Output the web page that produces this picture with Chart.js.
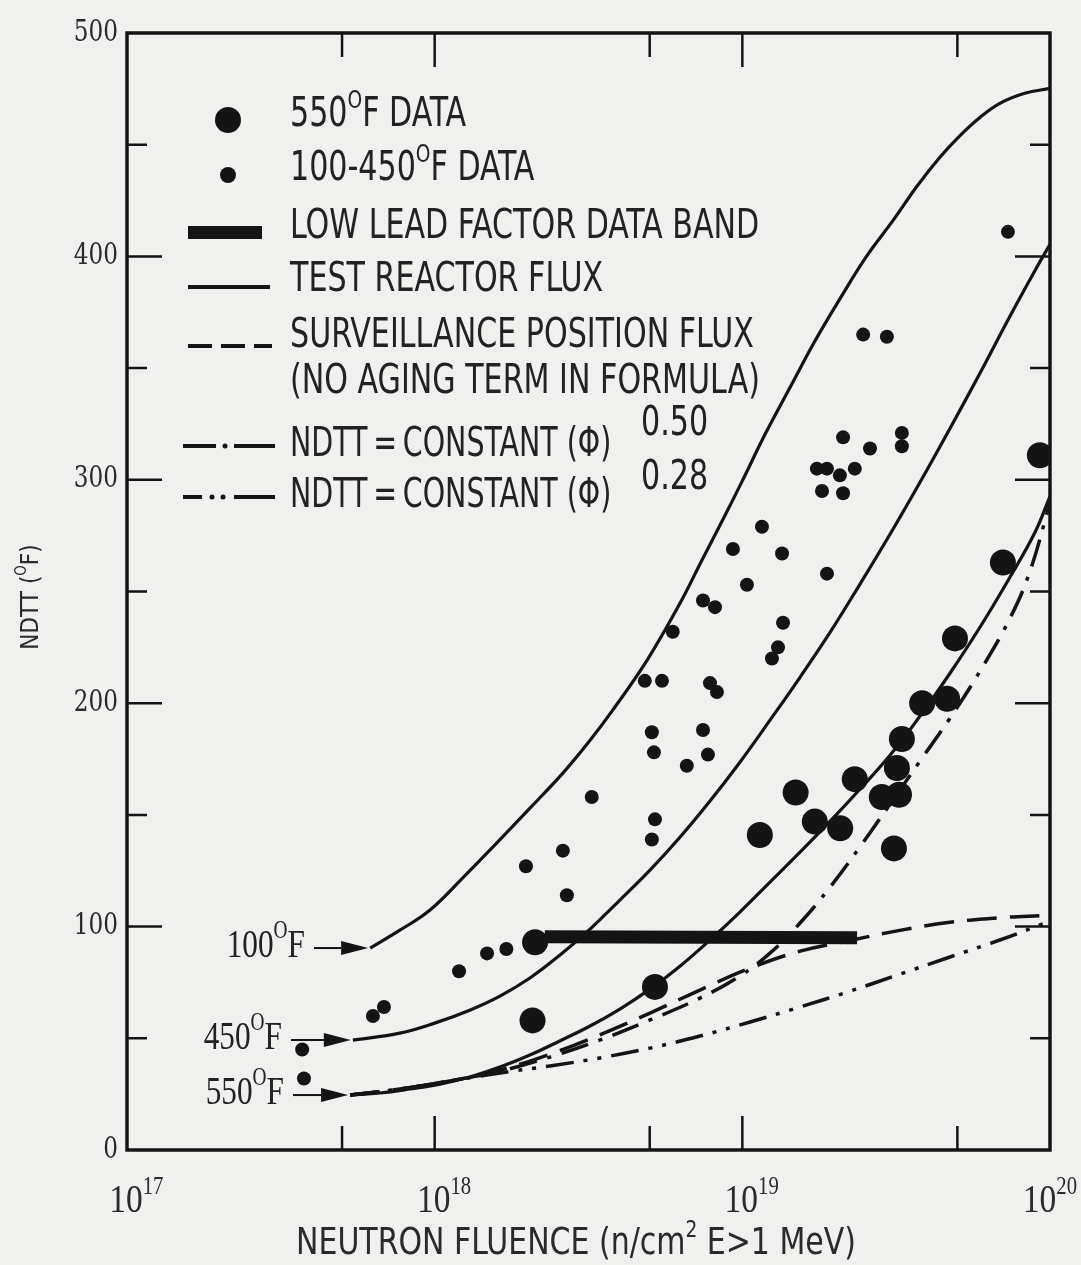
<!DOCTYPE html>
<html><head><meta charset="utf-8">
<script src="https://cdn.jsdelivr.net/npm/chart.js@4/dist/chart.umd.min.js"></script>
<style>html,body{margin:0;padding:0;background:#f0f0ee;}canvas{display:block}</style>
</head><body>
<canvas id="c" width="1081" height="1265"></canvas>
<script>
// ---------------- DATA ----------------
// 550°F data (large dots): fluence (n/cm2), NDTT (°F)
const big550X = [2.12e18, 2.08e18, 5.2e18, 1.14e19, 1.49e19, 1.72e19, 2.08e19, 2.32e19, 2.84e19, 3.23e19, 3.18e19, 3.30e19, 3.11e19, 3.84e19, 4.63e19, 4.91e19, 7.03e19, 9.27e19];
const big550Y = [93, 58, 73, 141, 160, 147, 144, 166, 158, 159, 171, 184, 135, 200, 202, 229, 263, 311];
// 100-450°F data (small dots)
const smallX = [3.71e17, 3.76e17, 6.30e17, 6.84e17, 1.20e18, 1.48e18, 1.71e18, 1.98e18, 2.61e18, 2.69e18, 3.24e18, 4.82e18, 5.48e18, 5.08e18, 5.16e18, 5.20e18, 5.08e18, 5.94e18, 6.60e18, 7.45e18, 7.73e18, 7.85e18, 8.27e18, 7.45e18, 8.15e18, 9.32e18, 1.035e19, 1.158e19, 1.346e19, 1.356e19, 1.306e19, 1.248e19, 1.884e19, 1.747e19, 1.884e19, 2.075e19, 2.32e19, 1.815e19, 2.125e19, 2.125e19, 2.60e19, 3.30e19, 3.30e19, 2.47e19, 2.95e19, 7.30e19];
const smallY = [45, 32, 60, 64, 80, 88, 90, 127, 134, 114, 158, 210, 210, 187, 178, 148, 139, 232, 172, 188, 177, 209, 205, 246, 243, 269, 253, 279, 267, 236, 225, 220, 258, 305, 305, 302, 305, 295, 294, 319, 314, 321, 315, 365, 364, 411];
// Low lead factor data band
const bandX = [2.28e18, 2.36e19];
const bandY = [95.5, 95];
// Test reactor flux curves (solid)
const c100X = [6.17e17, 7.71e17, 9.66e17, 1.25e18, 1.59e18, 2.04e18, 2.61e18, 3.20e18, 3.79e18, 4.90e18, 6.27e18, 7.39e18, 8.59e18, 9.98e18, 1.19e19, 1.43e19, 1.72e19, 2.08e19, 2.52e19, 3.09e19, 3.69e19, 4.38e19, 5.10e19, 5.92e19, 6.87e19, 8.28e19, 1e20];
const c100Y = [90.4, 98.4, 107.4, 122.6, 137.4, 153.0, 168.7, 183.4, 196.9, 219.2, 244.7, 264.0, 281.4, 299.3, 320.8, 341.4, 362.0, 381.2, 399.6, 416.1, 431.3, 444.3, 454.1, 462.2, 468.5, 473.0, 475.2];
const c450X = [5.42e17, 7.71e17, 1.00e18, 1.30e18, 1.63e18, 2.04e18, 2.55e18, 3.20e18, 4.00e18, 5.01e18, 6.27e18, 7.85e18, 9.82e18, 1.23e19, 1.54e19, 1.93e19, 2.41e19, 3.02e19, 3.78e19, 4.73e19, 5.92e19, 7.41e19, 8.94e19, 1e20];
const c450Y = [49.2, 52.3, 56.8, 62.6, 68.9, 77.0, 87.2, 98.9, 111.9, 125.3, 140.0, 156.2, 173.6, 192.4, 211.6, 231.8, 253.2, 275.6, 298.9, 323.0, 347.7, 373.2, 393.7, 405.4];
const c550X = [5.31e17, 6.64e17, 8.31e17, 1.04e18, 1.30e18, 1.63e18, 2.04e18, 2.55e18, 3.20e18, 4.00e18, 5.01e18, 6.27e18, 7.85e18, 9.82e18, 1.23e19, 1.54e19, 1.93e19, 2.41e19, 3.02e19, 3.78e19, 4.73e19, 5.92e19, 7.41e19, 8.94e19, 1e20];
const c550Y = [24.6, 25.5, 27.3, 29.5, 32.7, 37.1, 42.5, 48.8, 55.5, 63.1, 72.0, 82.3, 94.0, 106.5, 119.9, 133.3, 147.2, 161.5, 176.7, 194.2, 213.4, 234.0, 256.4, 276.5, 292.6];
// Surveillance position flux (dashed)
const survX = [5.31e17, 7.71e17, 1.12e18, 1.63e18, 2.37e18, 3.44e18, 5.01e18, 7.28e18, 1.06e19, 1.54e19, 2.24e19, 3.25e19, 4.73e19, 6.87e19, 9.64e19];
const survY = [24.6, 27.3, 30.9, 35.8, 42.9, 51.5, 61.3, 71.6, 81.4, 89.0, 93.8, 98.3, 101.9, 104.0, 105.0];
// NDTT = constant (phi)^0.50 (dash-dot)
const p50X = [5.31e17, 7.71e17, 1.12e18, 1.63e18, 2.37e18, 3.44e18, 5.01e18, 7.28e18, 9.82e18, 1.23e19, 1.54e19, 1.93e19, 2.41e19, 3.02e19, 3.78e19, 4.73e19, 5.92e19, 7.41e19, 8.61e19, 1e20];
const p50Y = [24.6, 27.3, 30.9, 35.3, 41.6, 49.2, 58.2, 68.0, 77.9, 88.1, 101.6, 117.7, 135.6, 154.8, 174.1, 193.3, 214.3, 238.0, 259.1, 289.9];
// NDTT = constant (phi)^0.28 (dash-dot-dot)
const p28X = [5.31e17, 7.71e17, 1.12e18, 1.63e18, 2.37e18, 3.44e18, 5.01e18, 7.28e18, 1.06e19, 1.54e19, 2.24e19, 3.25e19, 4.73e19, 6.87e19, 9.64e19];
const p28Y = [24.6, 27.3, 30.9, 34.5, 37.6, 41.2, 45.6, 51.0, 57.3, 64.0, 71.1, 78.7, 86.4, 94.0, 101.6];
// Axis ticks / labels
const yTickValues = [0, 50, 100, 150, 200, 250, 300, 350, 400, 450, 500];
const yTickLabels = ['0', '', '100', '', '200', '', '300', '', '400', '', '500'];
const xTickValues = [5e17, 1e18, 5e18, 1e19, 5e19];
const xLabelExponents = ['17', '18', '19', '20'];
const xLabelValues = [1e17, 1e18, 1e19, 1e20];

// ---------------- STYLE ----------------
const INK = '#141414';
const SANS = '"Liberation Sans Narrow","DejaVu Sans Condensed","Arial Narrow",sans-serif';
const SERIF = '"Liberation Serif","DejaVu Serif",serif';
const NUMF = '"DejaVu Serif",serif';

function pts(xs, ys) { return xs.map((x, i) => ({ x: x, y: ys[i] })); }

function measureRuns(ctx, parts, size, family, sx) {
  const supSize = size * 0.62;
  let total = 0;
  parts.forEach(p => { ctx.font = (p[1] ? supSize : size) + 'px ' + family; total += ctx.measureText(p[0]).width * (sx || 1); });
  return total;
}

function runs(ctx, x, y, parts, size, family, align, sy, sx) {
  sy = sy || 1; sx = sx || 1;
  const supSize = size * 0.62;
  let total = 0;
  const ws = parts.map(p => {
    ctx.font = (p[1] ? supSize : size) + 'px ' + family;
    const w = ctx.measureText(p[0]).width * sx; total += w; return w;
  });
  let cx = align === 'right' ? x - total : (align === 'center' ? x - total / 2 : x);
  ctx.save();
  ctx.textBaseline = 'middle';
  ctx.textAlign = 'left';
  parts.forEach((p, i) => {
    ctx.save();
    ctx.translate(cx, y);
    ctx.scale(sx, sy);
    ctx.font = (p[1] ? supSize : size) + 'px ' + family;
    ctx.fillText(p[0], 0, p[1] ? -size * 0.36 : 0);
    ctx.restore();
    cx += ws[i];
  });
  ctx.restore();
  return total;
}

const overlay = {
  id: 'overlay',
  afterDraw(chart) {
    const ctx = chart.ctx;
    const a = chart.chartArea;
    const xs = chart.scales.x, ys = chart.scales.y;
    ctx.save();
    ctx.strokeStyle = INK; ctx.fillStyle = INK;
    // frame
    ctx.lineWidth = 3.5;
    ctx.setLineDash([]);
    ctx.strokeRect(a.left, a.top, a.right - a.left, a.bottom - a.top);
    // y ticks (inside, both sides)
    ctx.lineWidth = 2.5;
    yTickValues.forEach(v => {
      if (v === 0 || v === 500) return;
      const py = ys.getPixelForValue(v);
      const len = v % 100 === 0 ? 35 : 20;
      ctx.beginPath();
      ctx.moveTo(a.left, py); ctx.lineTo(a.left + len, py);
      ctx.moveTo(a.right, py); ctx.lineTo(a.right - len, py);
      ctx.stroke();
    });
    // x ticks (inside, top and bottom)
    xTickValues.forEach(v => {
      const px = xs.getPixelForValue(v);
      const major = Math.abs(Math.log10(v) - Math.round(Math.log10(v))) < 1e-6;
      const len = major ? 34 : 24;
      ctx.beginPath();
      ctx.moveTo(px, a.bottom); ctx.lineTo(px, a.bottom - len);
      ctx.moveTo(px, a.top); ctx.lineTo(px, a.top + len);
      ctx.stroke();
    });
    // y tick labels
    ctx.fillStyle = '#2a2a2a';
    yTickValues.forEach((v, i) => {
      if (!yTickLabels[i]) return;
      runs(ctx, a.left - 9, ys.getPixelForValue(v), [[yTickLabels[i], false]], 29, NUMF, 'right', 1, 0.8);
    });
    // x tick labels 10^n
    xLabelValues.forEach((v, i) => {
      const px = xs.getPixelForValue(v);
      const parts = [['10', false], [xLabelExponents[i], true]];
      ctx.font = '38px ' + SERIF;
      const w10 = ctx.measureText('10').width * 0.88;
      let left = px - w10 / 2 - 1;
      const tw = measureRuns(ctx, parts, 38, SERIF, 0.88);
      if (left + tw > chart.width - 4) left = chart.width - 4 - tw;
      runs(ctx, left, a.bottom + 52, parts, 38, SERIF, 'left', 1.05, 0.88);
    });
    // axis titles
    runs(ctx, 576, 1244, [['NEUTRON FLUENCE (n/cm', false], ['2', true], [' E>1 MeV)', false]], 34, SANS, 'center', 1.1, 0.98);
    ctx.save();
    ctx.translate(31, 597);
    ctx.rotate(-Math.PI / 2);
    runs(ctx, 0, 0, [['NDTT (', false], ['O', true], ['F)', false]], 24, SANS, 'center', 1.05);
    ctx.restore();

    // start labels with arrows
    const starts = [
      { lab: '100', right: 305, x: c100X[0], y: c100Y[0] },
      { lab: '450', right: 282, x: c450X[0], y: c450Y[0] },
      { lab: '550', right: 284, x: c550X[0], y: c550Y[0] }
    ];
    starts.forEach(s => {
      const px = xs.getPixelForValue(s.x), py = ys.getPixelForValue(s.y);
      ctx.fillStyle = '#222';
      runs(ctx, s.right, py - 2, [[s.lab, false], ['O', true], ['F', false]], 34, SERIF, 'right', 1.18, 0.92);
      ctx.fillStyle = INK;
      const tip = px - 2, base = tip - 27;
      ctx.lineWidth = 2;
      ctx.beginPath(); ctx.moveTo(s.right + 9, py); ctx.lineTo(base, py); ctx.stroke();
      ctx.beginPath(); ctx.moveTo(base, py - 7); ctx.lineTo(tip, py); ctx.lineTo(base, py + 7); ctx.closePath(); ctx.fill();
    });

    // legend
    ctx.fillStyle = INK;
    ctx.beginPath(); ctx.arc(228, 120, 13, 0, Math.PI * 2); ctx.fill();
    ctx.beginPath(); ctx.arc(228, 175, 8, 0, Math.PI * 2); ctx.fill();
    ctx.fillRect(188, 226, 74, 13);
    ctx.lineWidth = 4;
    ctx.beginPath(); ctx.moveTo(188, 287); ctx.lineTo(270, 287); ctx.stroke();
    ctx.setLineDash([24, 9]);
    ctx.beginPath(); ctx.moveTo(188, 346); ctx.lineTo(272, 346); ctx.stroke();
    ctx.setLineDash([]);
    ctx.beginPath(); ctx.moveTo(183, 446); ctx.lineTo(216, 446); ctx.moveTo(234, 446); ctx.lineTo(275, 446); ctx.stroke();
    ctx.beginPath(); ctx.arc(225, 446, 2.5, 0, Math.PI * 2); ctx.fill();
    ctx.beginPath(); ctx.moveTo(183, 497); ctx.lineTo(202, 497); ctx.moveTo(234, 497); ctx.lineTo(275, 497); ctx.stroke();
    ctx.beginPath(); ctx.arc(212, 497, 2.5, 0, Math.PI * 2); ctx.fill();
    ctx.beginPath(); ctx.arc(223, 497, 2.5, 0, Math.PI * 2); ctx.fill();

    ctx.fillStyle = '#222';
    const LS = 36, SY = 1.12, SX = 0.93;
    runs(ctx, 290, 116, [['550', false], ['O', true], ['F DATA', false]], LS, SANS, 'left', SY, SX);
    runs(ctx, 290, 170, [['100-450', false], ['O', true], ['F DATA', false]], LS, SANS, 'left', SY, SX);
    runs(ctx, 290, 228, [['LOW LEAD FACTOR DATA BAND', false]], LS, SANS, 'left', SY, SX);
    runs(ctx, 290, 281, [['TEST REACTOR FLUX', false]], LS, SANS, 'left', SY, SX);
    runs(ctx, 290, 337, [['SURVEILLANCE POSITION FLUX', false]], LS, SANS, 'left', SY, SX);
    runs(ctx, 290, 383, [['(NO AGING TERM IN FORMULA)', false]], LS, SANS, 'left', SY, SX);
    runs(ctx, 290, 446, [['NDTT\u2009=\u2009CONSTANT (Φ)', false]], LS, SANS, 'left', SY, 0.88);
    runs(ctx, 290, 497, [['NDTT\u2009=\u2009CONSTANT (Φ)', false]], LS, SANS, 'left', SY, 0.88);
    runs(ctx, 641, 425, [['0.50', false]], LS, SANS, 'left', SY, SX);
    runs(ctx, 641, 479, [['0.28', false]], LS, SANS, 'left', SY, SX);
    ctx.restore();
  }
};

const curveStyle = { borderColor: INK, borderWidth: 3.2, pointRadius: 0, showLine: true, fill: false, tension: 0.4, type: 'line' };

new Chart(document.getElementById('c'), {
  type: 'scatter',
  data: {
    datasets: [
      Object.assign({}, curveStyle, { label: 'TEST REACTOR FLUX 100F', data: pts(c100X, c100Y) }),
      Object.assign({}, curveStyle, { label: 'TEST REACTOR FLUX 450F', data: pts(c450X, c450Y) }),
      Object.assign({}, curveStyle, { label: 'TEST REACTOR FLUX 550F', data: pts(c550X, c550Y) }),
      Object.assign({}, curveStyle, { label: 'SURVEILLANCE POSITION FLUX', data: pts(survX, survY), borderWidth: 3.5, borderDash: [30, 13] }),
      Object.assign({}, curveStyle, { label: 'NDTT = CONSTANT (Φ)^0.50', data: pts(p50X, p50Y), borderWidth: 3.5, borderDash: [28, 11, 4, 11] }),
      Object.assign({}, curveStyle, { label: 'NDTT = CONSTANT (Φ)^0.28', data: pts(p28X, p28Y), borderWidth: 3.5, borderDash: [28, 10, 4, 10, 4, 10] }),
      { type: 'line', label: 'LOW LEAD FACTOR DATA BAND', data: pts(bandX, bandY), borderColor: INK, borderWidth: 13, borderCapStyle: 'butt', pointRadius: 0, showLine: true, fill: false },
      { label: '550°F DATA', data: pts(big550X, big550Y), showLine: false, pointRadius: 13, pointBackgroundColor: INK, pointBorderWidth: 0, backgroundColor: INK },
      { label: '100-450°F DATA', data: pts(smallX, smallY), showLine: false, pointRadius: 7, pointBackgroundColor: INK, pointBorderWidth: 0, backgroundColor: INK }
    ]
  },
  options: {
    responsive: false,
    animation: false,
    devicePixelRatio: 1,
    layout: { padding: { left: 0, top: 33, right: 31, bottom: 0 } },
    plugins: { legend: { display: false }, tooltip: { enabled: false } },
    scales: {
      x: { type: 'logarithmic', min: 1e17, max: 1e20, ticks: { display: false }, grid: { display: false }, border: { display: false }, afterFit(s) { s.height = 115; } },
      y: { type: 'linear', min: 0, max: 500, ticks: { display: false, stepSize: 50 }, grid: { display: false }, border: { display: false }, afterFit(s) { s.width = 127; } }
    }
  },
  plugins: [overlay]
});
</script>
</body></html>
